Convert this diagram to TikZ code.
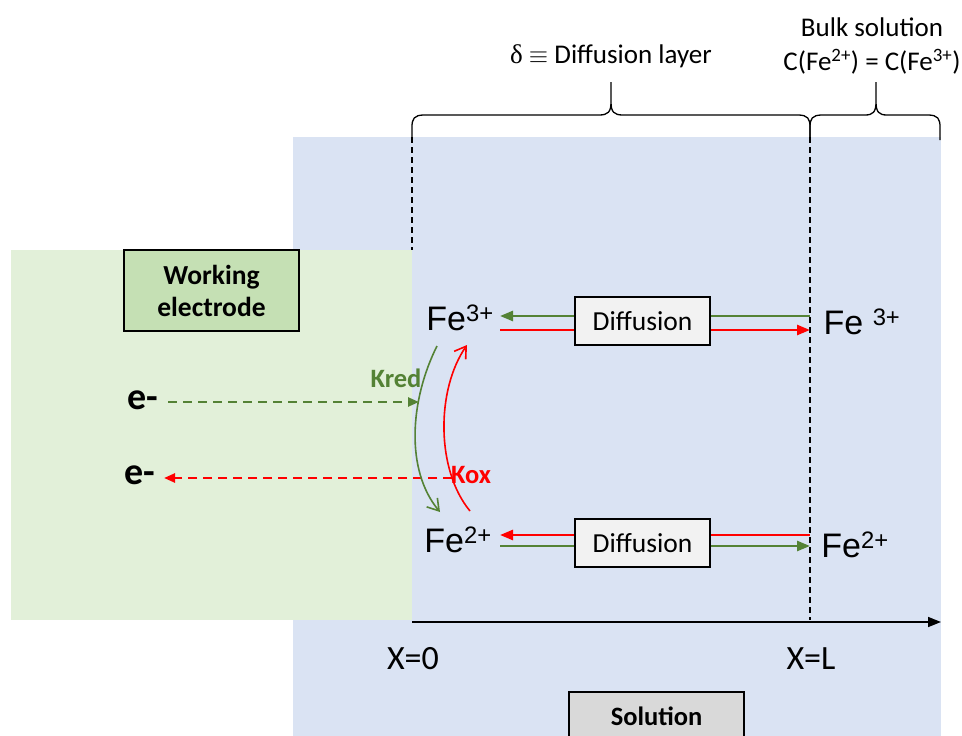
\documentclass[tikz,border=0pt]{standalone}
\usepackage{fontspec}
\setmainfont{Carlito}
\newfontfamily\arialfont{Liberation Sans}
\newfontfamily\serifgreek{Liberation Serif}
\usetikzlibrary{arrows.meta}
\definecolor{solbg}{HTML}{DAE3F3}
\definecolor{elecbg}{HTML}{E2F0D9}
\definecolor{elecbox}{HTML}{C5E0B4}
\definecolor{diffill}{HTML}{F2F2F2}
\definecolor{solbox}{HTML}{D9D9D9}
\definecolor{kgreen}{HTML}{548235}
\definecolor{kred}{HTML}{FF0000}
\tikzset{
  ion/.style={font=\arialfont\fontsize{34}{38}\selectfont, inner sep=0pt},
  diffbox/.style={draw=black, fill=diffill, line width=1.8pt, minimum width=135pt, minimum height=48pt, inner sep=0pt, font=\fontsize{27.5}{30}\selectfont},
  labelbox/.style={draw=black, line width=1.6pt, inner sep=0pt, font=\bfseries\fontsize{27.5}{32}\selectfont, align=center},
  electron/.style={font=\bfseries\fontsize{38}{42}\selectfont, inner sep=0pt},
  ratelbl/.style={font=\bfseries\fontsize{26.5}{30}\selectfont, inner sep=0pt},
  plain/.style={font=\fontsize{27}{32}\selectfont, inner sep=0pt},
  axislbl/.style={font=\fontsize{34}{38}\selectfont, inner sep=0pt},
  flux/.style={line width=2.6pt, -{Triangle[length=13pt,width=10pt]}},
  transfer/.style={line width=2.4pt, dash pattern=on 9pt off 6pt, -{Triangle[length=11pt,width=9pt]}},
  reaction/.style={line width=1.6pt, -{Straight Barb[length=11pt,width=14pt,line width=1.6pt]}},
  boundary/.style={line width=1.4pt, dash pattern=on 6pt off 4pt},
  bracepath/.style={line width=1.3pt},
}
\begin{document}
\begin{tikzpicture}[x=1pt,y=-1pt]
\useasboundingbox (0,0) rectangle (962,736);

% regions: solution and working electrode
\fill[solbg] (293,137) rectangle (941,736);
\fill[elecbg] (11,250) rectangle (412,620);

% boundaries of the diffusion layer
\draw[boundary] (412,137) -- (412,250);
\draw[boundary] (810,137) -- (810,620);

% distance axis
\coordinate (x0) at (412,622);
\coordinate (xend) at (941,622);
\draw[line width=1.6pt, -{Triangle[length=13pt,width=10pt]}] (x0) -- (xend);
\node[axislbl] (lx0) at (413,659) {X=0};
\node[axislbl] (lxl) at (811,659) {X=L};

% braces above the layers
\draw[bracepath] (412,140) -- (412,127) .. controls (412,119) and (414,115) .. (424,115)
  -- (599,115) .. controls (608,115) and (611,112) .. (611,102) -- (611,82)
  (611,102) .. controls (611,112) and (614,115) .. (623,115)
  -- (798,115) .. controls (808,115) and (810,119) .. (810,127) -- (810,140);
\draw[bracepath] (810,140) -- (810,127) .. controls (810,119) and (812,115) .. (822,115)
  -- (865,115) .. controls (873,115) and (876,112) .. (876,102) -- (876,82)
  (876,102) .. controls (876,112) and (879,115) .. (887,115)
  -- (928,115) .. controls (938,115) and (940,119) .. (940,127) -- (940,140);
\node[plain] (dlayer) at (611,56) {{\serifgreek δ} $\equiv$ Diffusion layer};
\node[plain] (bulk) at (872,27) {Bulk solution};
\node[plain] (bulkc) at (872,62) {C(Fe\textsuperscript{2+}) = C(Fe\textsuperscript{3+})};

% ions
\node[ion] (fe3) at (460,318) {Fe\textsuperscript{3+}};
\node[ion] (fe2) at (458,540) {Fe\textsuperscript{2+}};
\node[ion] (fe3b) at (862,322) {Fe \textsuperscript{3+}};
\node[ion] (fe2b) at (855,545) {Fe\textsuperscript{2+}};

% diffusion fluxes
\coordinate (a3l) at (500,316);
\coordinate (a3r) at (810,316);
\coordinate (b3l) at (500,330);
\coordinate (b3r) at (810,330);
\coordinate (a2l) at (500,535);
\coordinate (a2r) at (810,535);
\coordinate (b2l) at (500,546);
\coordinate (b2r) at (810,546);
\draw[flux, kgreen] (a3r) -- (a3l);
\draw[flux, kred] (b3l) -- (b3r);
\draw[flux, kred] (a2r) -- (a2l);
\draw[flux, kgreen] (b2l) -- (b2r);
\node[diffbox] (d1) at (642.5,321) {Diffusion};
\node[diffbox] (d2) at (642.5,543) {Diffusion};

% working electrode
\node[labelbox, fill=elecbox, minimum width=175pt, minimum height=81pt] (we) at (211.5,290.5) {Working\\electrode};

% electron transfer
\node[electron] (e1) at (143,400) {e-};
\node[electron] (e2) at (140,475) {e-};
\coordinate (e1start) at (168,402);
\coordinate (e1end) at (419,402);
\coordinate (e2start) at (452,478);
\coordinate (e2end) at (164,478);
\draw[transfer, kgreen] (e1start) -- (e1end);
\draw[transfer, kred] (e2start) -- (e2end);

% redox reactions at the surface
\coordinate (g1) at (437,346);
\coordinate (g2) at (440,512);
\coordinate (r1) at (470,511);
\coordinate (r2) at (467,345);
\draw[reaction, kgreen] (g1) .. controls (410,400) and (405,470) .. (g2);
\draw[reaction, kred] (r1) .. controls (436,470) and (436,390) .. (r2);
\node[ratelbl, text=kgreen] (kr) at (396,378) {Kred};
\node[ratelbl, text=kred] (ko) at (471,475) {Kox};

% solution label
\draw[line width=1.6pt, fill=solbox] (569,692) rectangle (744,750);
\node[font=\bfseries\fontsize{26.5}{30}\selectfont, inner sep=0pt] (sol) at (656.5,716) {Solution};
\end{tikzpicture}
\end{document}
